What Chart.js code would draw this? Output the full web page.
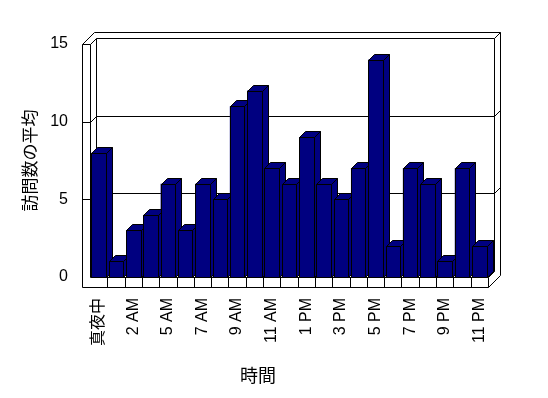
<!DOCTYPE html>
<html lang="ja">
<head>
<meta charset="UTF-8">
<script src="https://cdn.jsdelivr.net/npm/chart.js@4/dist/chart.umd.min.js"></script>
<title>訪問数の平均</title>
<style>
    body { margin: 0; background: #fff; }
</style>
</head>
<body>
<canvas id="myChart" width="548" height="398"></canvas>
<script>
    // 時間帯ごとの訪問数の平均
    const hours = ['真夜中', '1 AM', '2 AM', '3 AM', '5 AM', '6 AM', '7 AM', '8 AM', '9 AM', '10 AM', '11 AM', '12 PM',
                   '1 PM', '2 PM', '3 PM', '4 PM', '5 PM', '6 PM', '7 PM', '8 PM', '9 PM', '10 PM', '11 PM'];
    const visits = [8, 1, 3, 4, 6, 3, 6, 5, 11, 12, 7, 6, 9, 6, 5, 7, 14, 2, 7, 6, 1, 7, 2];
    const gridValues = [5, 10];

    const FONT = "'Liberation Sans', 'Noto Sans CJK JP', sans-serif";
    const NAVY = '#000080';
    // 奥行き (Excelの3D風)
    const DX = 6, DY = -6;
    const WALL = 8, FLOOR = 10;

    const px = v => Math.round(v) + 0.5;

    function poly(ctx, pts, fill) {
        ctx.beginPath();
        pts.forEach((p, i) => i ? ctx.lineTo(p[0], p[1]) : ctx.moveTo(p[0], p[1]));
        ctx.closePath();
        if (fill) { ctx.fillStyle = fill; ctx.fill(); }
        ctx.stroke();
    }
    function path(ctx, pts) {
        ctx.beginPath();
        pts.forEach((p, i) => i ? ctx.lineTo(p[0], p[1]) : ctx.moveTo(p[0], p[1]));
        ctx.stroke();
    }

    // 壁・床・目盛線・立体の棒
    const box3d = {
        id: 'box3d',
        beforeDatasetsDraw(chart) {
            const ctx = chart.ctx, a = chart.chartArea, ys = chart.scales.y, xs = chart.scales.x;
            const L = px(a.left), R = px(a.right), T = px(a.top), B = px(a.bottom);
            ctx.save();
            ctx.strokeStyle = '#000';
            ctx.lineWidth = 1;
            poly(ctx, [[L - WALL, T], [L - WALL + 2 * DX, T + 2 * DY], [R + 2 * DX, T + 2 * DY],
                       [R + 2 * DX, B + FLOOR + 2 * DY], [R, B + FLOOR], [L - WALL, B + FLOOR]], '#fff');
            path(ctx, [[L - WALL, T], [L, T], [L + DX, T + DY], [R + DX, T + DY], [R + 2 * DX, T + 2 * DY]]);
            path(ctx, [[L, T], [L, B]]);
            path(ctx, [[L + DX, T + DY], [L + DX, B + DY]]);
            path(ctx, [[R + DX, T + DY], [R + DX, B + DY]]);
            path(ctx, [[L, B], [R, B], [R + DX, B + DY], [L + DX, B + DY]]);
            path(ctx, [[R, B], [R, B + FLOOR]]);
            gridValues.forEach(v => {
                const gy = px(ys.getPixelForValue(v));
                path(ctx, [[L - WALL, gy], [L, gy], [L + DX, gy + DY], [R + DX, gy + DY], [R + 2 * DX, gy + 2 * DY]]);
            });
            for (let i = 1; i < hours.length; i++) {
                const bx = px((xs.getPixelForValue(i - 1) + xs.getPixelForValue(i)) / 2);
                path(ctx, [[bx, B], [bx, B + FLOOR]]);
            }
            ctx.restore();
        },
        afterDatasetsDraw(chart) {
            const ctx = chart.ctx;
            ctx.save();
            ctx.strokeStyle = '#000';
            ctx.lineWidth = 1;
            chart.getDatasetMeta(0).data.forEach(bar => {
                const p = bar.getProps(['x', 'y', 'base', 'width'], true);
                const l = px(p.x - p.width / 2), r = px(p.x + p.width / 2);
                const t = px(p.y), b = px(p.base);
                poly(ctx, [[r, t], [r + DX, t + DY], [r + DX, b + DY], [r, b]], NAVY);
                poly(ctx, [[l, t], [r, t], [r + DX, t + DY], [l + DX, t + DY]], NAVY);
                poly(ctx, [[l, t], [r, t], [r, b], [l, b]], NAVY);
            });
            ctx.restore();
        },
        afterDraw(chart) {
            const ctx = chart.ctx;
            ctx.save();
            ctx.fillStyle = '#000';
            ctx.font = '18px ' + FONT;
            ctx.textAlign = 'center';
            ctx.textBaseline = 'middle';
            ctx.fillText('時間', 258, 377);
            ctx.restore();
        }
    };

    const ctx = document.getElementById('myChart').getContext('2d');
    new Chart(ctx, {
        type: 'bar',
        data: {
            labels: hours,
            datasets: [{
                label: '訪問数の平均',
                data: visits,
                backgroundColor: NAVY,
                borderWidth: 0,
                categoryPercentage: 1,
                barPercentage: 0.84
            }]
        },
        options: {
            responsive: false,
            animation: false,
            layout: { padding: { top: 44, right: 60, left: 0, bottom: 0 } },
            plugins: { legend: { display: false }, tooltip: { enabled: false } },
            scales: {
                x: {
                    grid: { display: false, drawTicks: false },
                    border: { display: false },
                    ticks: {
                        autoSkip: false,
                        minRotation: 90,
                        maxRotation: 90,
                        padding: 21,
                        color: '#000',
                        font: { family: FONT, size: 16 },
                        callback(v, i) { return i % 2 === 0 ? this.getLabelForValue(v) : ''; }
                    },
                    afterFit(scale) { scale.height = 121; }
                },
                y: {
                    min: 0,
                    max: 15,
                    grid: { display: false, drawTicks: false },
                    border: { display: false },
                    ticks: { stepSize: 5, padding: 22, color: '#000', font: { family: FONT, size: 16 } },
                    title: {
                        display: true,
                        text: '訪問数の平均',
                        color: '#000',
                        font: { family: FONT, size: 17 },
                        padding: { top: 21, bottom: 0 }
                    },
                    afterFit(scale) { scale.width = 90; }
                }
            }
        },
        plugins: [box3d]
    });
</script>
</body>
</html>
